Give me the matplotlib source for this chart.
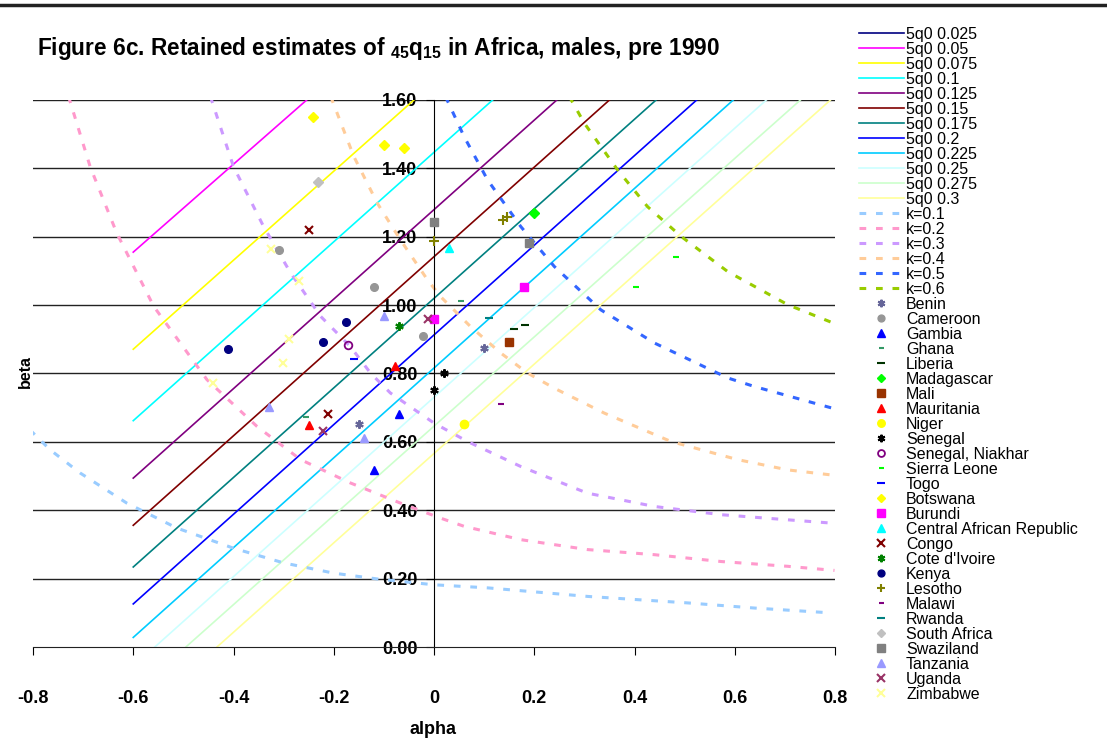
import matplotlib
matplotlib.use("Agg")
import matplotlib.pyplot as plt
from matplotlib.lines import Line2D

plt.rcParams['font.family'] = ['Liberation Sans', 'DejaVu Sans']
plt.rcParams['mathtext.fontset'] = 'custom'
plt.rcParams['mathtext.rm'] = 'Liberation Sans'
plt.rcParams['mathtext.bf'] = 'Liberation Sans:bold'

# 5q0 iso-lines: start (alpha, beta) and end (alpha, beta)
q_labels = ['5q0 0.025', '5q0 0.05', '5q0 0.075', '5q0 0.1', '5q0 0.125', '5q0 0.15',
            '5q0 0.175', '5q0 0.2', '5q0 0.225', '5q0 0.25', '5q0 0.275', '5q0 0.3']
q_colors = ['#000080', '#ff00ff', '#ffff00', '#00ffff', '#800080', '#800000',
            '#008080', '#0000ff', '#00ccff', '#ccffff', '#ccffcc', '#ffff99']
q_a0 = [None, -0.600, -0.600, -0.600, -0.600, -0.600, -0.600, -0.600, -0.600, -0.557, -0.495, -0.433]
q_b0 = [None, 1.155, 0.871, 0.662, 0.494, 0.356, 0.234, 0.126, 0.028, 0.0, 0.0, 0.0]
q_a1 = [None, -0.254, -0.040, 0.117, 0.245, 0.350, 0.443, 0.524, 0.597, 0.663, 0.731, 0.791]
q_b1 = [None, 1.6, 1.6, 1.6, 1.6, 1.6, 1.6, 1.6, 1.6, 1.6, 1.6, 1.6]

# k curves
k_labels = ['k=0.1', 'k=0.2', 'k=0.3', 'k=0.4', 'k=0.5', 'k=0.6']
k_colors = ['#99ccff', '#ff99cc', '#cc99ff', '#ffcc99', '#3366ff', '#99cc00']
k1_a = [-0.806, -0.766, -0.706, -0.613, -0.513, -0.400, -0.300, -0.200, -0.113, 0.0, 0.107, 0.306, 0.506, 0.639, 0.779]
k1_b = [0.635, 0.577, 0.509, 0.421, 0.348, 0.289, 0.246, 0.216, 0.199, 0.182, 0.173, 0.148, 0.129, 0.114, 0.101]
k2_a = [-0.729, -0.686, -0.633, -0.559, -0.453, -0.353, -0.266, -0.167, -0.067, 0.013, 0.060, 0.173, 0.306, 0.440, 0.573, 0.706, 0.799]
k2_b = [1.61, 1.405, 1.211, 0.996, 0.782, 0.645, 0.548, 0.480, 0.421, 0.377, 0.353, 0.314, 0.285, 0.270, 0.250, 0.236, 0.224]
k3_a = [-0.446, -0.400, -0.340, -0.286, -0.226, -0.167, -0.126, -0.087, 0.0, 0.067, 0.173, 0.306, 0.440, 0.573, 0.706, 0.806]
k3_b = [1.61, 1.405, 1.230, 1.094, 0.967, 0.879, 0.800, 0.743, 0.655, 0.601, 0.528, 0.450, 0.411, 0.387, 0.372, 0.361]
k4_a = [-0.206, -0.160, -0.113, -0.067, -0.013, 0.013, 0.073, 0.133, 0.187, 0.240, 0.340, 0.473, 0.606, 0.706, 0.806]
k4_b = [1.61, 1.435, 1.298, 1.191, 1.074, 1.025, 0.937, 0.860, 0.801, 0.757, 0.684, 0.601, 0.548, 0.518, 0.501]
k5_a = [0.023, 0.060, 0.107, 0.173, 0.240, 0.333, 0.440, 0.586, 0.639, 0.806]
k5_b = [1.61, 1.493, 1.366, 1.230, 1.113, 0.986, 0.889, 0.787, 0.762, 0.694]
k6_a = [0.270, 0.300, 0.366, 0.426, 0.493, 0.586, 0.706, 0.806]
k6_b = [1.61, 1.532, 1.396, 1.288, 1.201, 1.098, 1.001, 0.942]
k_alpha = [k1_a, k2_a, k3_a, k4_a, k5_a, k6_a]
k_beta = [k1_b, k2_b, k3_b, k4_b, k5_b, k6_b]

# retained country estimates
countries = ['Benin', 'Cameroon', 'Gambia', 'Ghana', 'Liberia', 'Madagascar', 'Mali',
             'Mauritania', 'Niger', 'Senegal', 'Senegal, Niakhar', 'Sierra Leone', 'Togo',
             'Botswana', 'Burundi', 'Central African Republic', 'Congo', "Cote d'Ivoire",
             'Kenya', 'Lesotho', 'Malawi', 'Rwanda', 'South Africa', 'Swaziland',
             'Tanzania', 'Uganda', 'Zimbabwe']
c_alpha = [[-0.150, 0.100], [-0.310, -0.120, -0.021], [-0.070, -0.120], [-0.256, 0.053],
           [0.160, 0.181], [0.200], [0.149], [-0.077, -0.250], [0.059], [0.020, 0.000],
           [-0.171], [0.403, 0.483], [-0.160], [-0.241, -0.100, -0.060], [0.000, 0.180],
           [0.030], [-0.250, -0.211], [-0.070], [-0.411, -0.221, -0.176],
           [0.000, 0.138, 0.145], [0.133], [0.110], [-0.231], [0.000, 0.189],
           [-0.330, -0.100, -0.140], [-0.221, -0.012], [-0.326, -0.270, -0.290, -0.301, -0.440]]
c_beta = [[0.653, 0.876], [1.162, 1.053, 0.911], [0.681, 0.518], [0.674, 1.013],
          [0.931, 0.942], [1.269], [0.892], [0.821, 0.650], [0.652], [0.801, 0.751],
          [0.882], [1.052, 1.142], [0.842], [1.549, 1.469, 1.459], [0.960, 1.052],
          [1.168], [1.220, 0.681], [0.940], [0.871, 0.892, 0.950],
          [1.189, 1.248, 1.258], [0.711], [0.961], [1.359], [1.242, 1.181],
          [0.702, 0.967, 0.611], [0.631, 0.960], [1.165, 1.072, 0.901, 0.830, 0.772]]
c_colors = ['#666699', '#969696', '#0000ff', '#339966', '#003300', '#00ff00', '#993300',
            '#ff0000', '#ffff00', '#000000', '#800080', '#00ff00', '#0000ff',
            '#ffff00', '#ff00ff', '#00ffff', '#800000', '#008000',
            '#000080', '#808000', '#800080', '#008080', '#c0c0c0', '#808080',
            '#9999ff', '#993366', '#ffff99']
c_markers = [(6, 2, 0), 'o', '^', '_', '_', 'D', 's', '^', 'o', (6, 2, 0), 'o', '_', '_',
             'D', 's', '^', 'x', (6, 2, 0), 'o', '+', '_', '_', 'D', 's', '^', 'x', 'x']
c_sizes = [6, 5.5, 6, 4, 6, 5, 6, 6, 6, 6, 5.5, 4, 6, 5, 6, 6, 6, 6, 5.5, 7, 4, 6, 5, 6, 6, 6, 6]

fig = plt.figure(figsize=(11.07, 7.51), dpi=100)
ax = fig.add_axes([33 / 1107, 1 - 647 / 751, 802 / 1107, 547 / 751])

for y in [0.2, 0.4, 0.6, 0.8, 1.0, 1.2, 1.4, 1.6]:
    ax.axhline(y, color='#222222', lw=1, zorder=1)

handles = []
for i in range(len(q_labels)):
    if q_a0[i] is None:
        # 5q0 0.025 lies above the plotted range; legend entry only
        h, = ax.plot([], [], color=q_colors[i], lw=1.2, label=q_labels[i])
    else:
        h, = ax.plot([q_a0[i], q_a1[i]], [q_b0[i], q_b1[i]], color=q_colors[i],
                     lw=1.2, label=q_labels[i], zorder=2)
    handles.append(h)

for i in range(len(k_labels)):
    h, = ax.plot(k_alpha[i], k_beta[i], color=k_colors[i], lw=2.2,
                 linestyle=(0, (2.2, 3.2)), label=k_labels[i], zorder=2)
    handles.append(h)

for i in range(len(countries)):
    m = c_markers[i]
    if countries[i] == 'Senegal, Niakhar':
        h, = ax.plot(c_alpha[i], c_beta[i], linestyle='none', marker='o', ms=c_sizes[i],
                     mfc='none', mec=c_colors[i], mew=1.3, label=countries[i], zorder=4)
    elif m in ['x', '+', '_'] or isinstance(m, tuple):
        h, = ax.plot(c_alpha[i], c_beta[i], linestyle='none', marker=m, ms=c_sizes[i],
                     color=c_colors[i], mew=1.5, label=countries[i], zorder=4)
    else:
        h, = ax.plot(c_alpha[i], c_beta[i], linestyle='none', marker=m, ms=c_sizes[i],
                     color=c_colors[i], mec=c_colors[i], label=countries[i], zorder=4)
    handles.append(h)

ax.set_xlim(-0.8, 0.8)
ax.set_ylim(0, 1.6)
ax.spines['left'].set_position(('data', 0))
ax.spines['top'].set_visible(False)
ax.spines['right'].set_visible(False)
ax.spines['bottom'].set_color('#222222')
ax.spines['left'].set_color('#000000')
ax.set_xticks([-0.8, -0.6, -0.4, -0.2, 0, 0.2, 0.4, 0.6, 0.8])
ax.set_xticklabels(['-0.8', '-0.6', '-0.4', '-0.2', '0', '0.2', '0.4', '0.6', '0.8'])
ax.set_yticks([0, 0.2, 0.4, 0.6, 0.8, 1.0, 1.2, 1.4, 1.6])
ax.set_yticklabels(['0.00', '0.20', '0.40', '0.60', '0.80', '1.00', '1.20', '1.40', '1.60'])
ax.tick_params(axis='x', direction='out', length=6, pad=25, labelsize=13)
ax.tick_params(axis='y', direction='out', length=6, pad=6, labelsize=13)
for t in ax.get_xticklabels() + ax.get_yticklabels():
    t.set_fontweight('bold')
    t.set_zorder(5)
ax.set_facecolor('none')

fig.text(37 / 1107, 1 - 48 / 751,
         r'Figure 6c. Retained estimates of ${}_{\mathbf{45}}\mathbf{q}_{\mathbf{15}}$ in Africa, males, pre 1990',
         fontsize=16.3, fontweight='bold', ha='left', va='center')
fig.text(433 / 1107, 1 - 730 / 751, 'alpha', fontsize=13, fontweight='bold', ha='center', va='center')
fig.text(25 / 1107, 1 - 372 / 751, 'beta', fontsize=11.5, fontweight='bold', ha='center', va='center',
         rotation=90)
fig.add_artist(Line2D([0, 1], [1 - 5 / 751, 1 - 5 / 751], color='#222222', lw=2.5))

fig.legend(handles=handles, loc='upper left', bbox_to_anchor=(859 / 1107, 1 - 27 / 751),
           frameon=False, fontsize=11.5, labelspacing=0.0, handlelength=2.8,
           handletextpad=0.15, borderpad=0, borderaxespad=0, markerscale=0.9)

fig.savefig('out.png', dpi=100)
